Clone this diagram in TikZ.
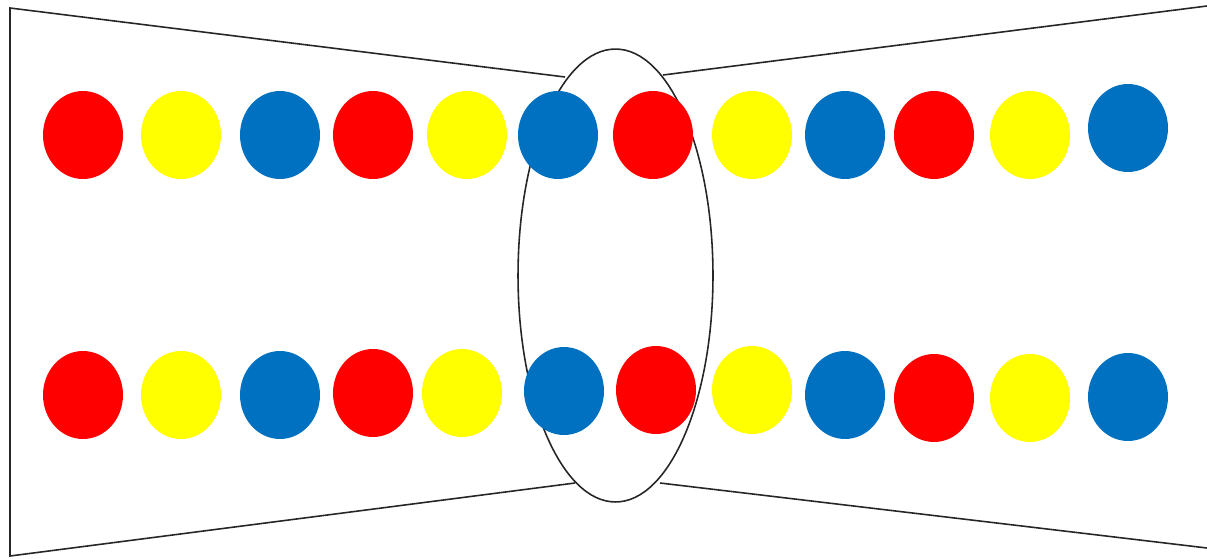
\documentclass[tikz,border=0pt]{standalone}
\usetikzlibrary{shapes.geometric}
\definecolor{ballred}{RGB}{255,0,0}
\definecolor{ballyellow}{RGB}{255,255,0}
\definecolor{ballblue}{RGB}{0,112,192}

\begin{document}
\begin{tikzpicture}[x=0.02cm, y=-0.02cm,
		ball/.style={ellipse, draw=none, minimum width=1.6cm, minimum height=1.76cm, inner sep=0pt},
		edge/.style={line width=0.9pt, black!85}]
	\useasboundingbox (0,0) rectangle (1207,558);
	% bow tie outline
	\coordinate (tl) at (10,8);
	\coordinate (bl) at (10,556);
	\coordinate (tr) at (1207,6);
	\coordinate (br) at (1207,548);
	\coordinate (itl) at (565,77);
	\coordinate (ibl) at (575,483);
	\coordinate (itr) at (663,75);
	\coordinate (ibr) at (660,483);
	\draw[edge] (itl) -- (tl) -- (bl) -- (ibl);
	\draw[edge] (itr) -- (tr);
	\draw[edge] (ibr) -- (br);
	% the waist
	\node[ellipse, edge, draw, minimum width=3.9cm, minimum height=9.06cm, inner sep=0pt] (waist) at (615.5,275.5) {};
	% upper row
	\foreach \x/\y/\c [count=\i] in {83/135/ballred, 181/135/ballyellow, 280/135/ballblue,
			373/135/ballred, 467/135/ballyellow, 558/135/ballblue, 653/135/ballred,
			752/135/ballyellow, 845/135/ballblue, 934/135/ballred, 1030/135/ballyellow, 1128/128/ballblue} {
		\node[ball, fill=\c] (top\i) at (\x,\y) {};
	}
	% lower row
	\foreach \x/\y/\c [count=\i] in {83/395/ballred, 181/395/ballyellow, 280/395/ballblue,
			373/393/ballred, 462/393/ballyellow, 564/391/ballblue, 656/390/ballred,
			752/390/ballyellow, 845/395/ballblue, 934/398/ballred, 1030/398/ballyellow, 1128/397/ballblue} {
		\node[ball, fill=\c] (bot\i) at (\x,\y) {};
	}
\end{tikzpicture}
\end{document}
